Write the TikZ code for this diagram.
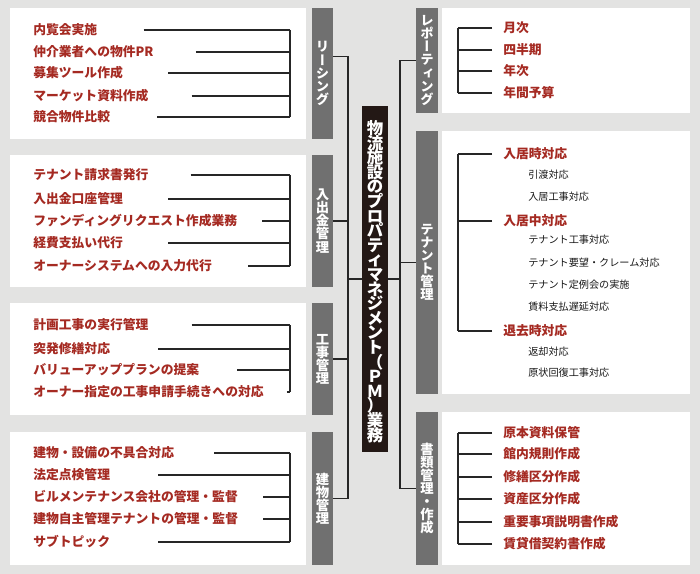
\documentclass[tikz,border=0pt]{standalone}
\usepackage{fontspec}
\setmainfont{Noto Sans CJK JP}
\newfontfamily\tatefont[RawFeature=+vert]{Noto Sans CJK JP}
\usetikzlibrary{positioning, fit}

\definecolor{bggray}{HTML}{E3E3E2}
\definecolor{tabgray}{HTML}{707070}
\definecolor{itemred}{HTML}{A52A22}
\definecolor{pmblack}{HTML}{231815}

\newcommand{\tabfont}{\tatefont\bfseries\fontsize{10}{9.8}\selectfont\lineskiplimit-20pt\lineskip0pt\relax}
\newcommand{\pmfont}{\bfseries\fontsize{12.3}{10.95}\selectfont\lineskiplimit-20pt\lineskip0pt\relax}

\tikzset{
    panel/.style={fill=white, inner sep=0pt},
    tab/.style={fill=tabgray, inner sep=0pt},
    tablabel/.style={inner sep=0pt, text=white, text width=15pt, align=center, font=\tabfont},
    pmbox/.style={fill=pmblack, inner sep=0pt},
    pmlabel/.style={inner sep=0pt, text=white, text width=19pt, align=center, font=\pmfont},
    item/.style={anchor=west, inner sep=0pt, text=itemred, font=\bfseries\fontsize{9.6}{10}\selectfont},
    subitem/.style={anchor=west, inner sep=0pt, text=black!90, font=\fontsize{7.6}{8}\selectfont},
    link/.style={draw=black!85, line width=0.8pt}
}

\begin{document}
\begin{tikzpicture}[x=0.75pt, y=-0.75pt]

        % -----------------------------------------------------------------
        % SFONDO E PANNELLI
        % -----------------------------------------------------------------
        \fill[bggray] (0,0) rectangle (700,574);
        \useasboundingbox (0,0) rectangle (700,574);

        \node[panel, fit={(10,8) (306,139)}] (pLease) {};
        \node[panel, fit={(10,155) (306,287)}] (pMoney) {};
        \node[panel, fit={(10,303) (306,415)}] (pWork) {};
        \node[panel, fit={(10,432) (306,565)}] (pBuild) {};
        \node[panel, fit={(442,8) (690,113)}] (pReport) {};
        \node[panel, fit={(442,131) (690,394)}] (pTenant) {};
        \node[panel, fit={(442,412) (690,565)}] (pDocs) {};

        \foreach \nm/\xa/\xb/\ya/\yb/\txt in {
            tLease/312/333/8/139/{リ\\ー\\シ\\ン\\グ},
            tMoney/312/333/155/287/{入\\出\\金\\管\\理},
            tWork/312/333/303/415/{工\\事\\管\\理},
            tBuild/312/333/432/565/{建\\物\\管\\理},
            tReport/416/438/8/113/{レ\\ポ\\ー\\テ\\ィ\\ン\\グ},
            tTenant/416/438/131/394/{テ\\ナ\\ン\\ト\\管\\理},
            tDocs/416/438/412/565/{書\\類\\管\\理\\・\\作\\成}} {
            \node[tab, fit={(\xa,\ya) (\xb,\yb)}] (\nm) {};
            \node[tablabel] (\nm Lbl) at (\nm.center) {\txt};
        }

        \coordinate (brkL) at (290,0);
        \coordinate (brkR) at (458,0);
        \coordinate (trunkL) at (348,279);
        \coordinate (trunkR) at (400,279);

        % -----------------------------------------------------------------
        % VOCI A SINISTRA
        % -----------------------------------------------------------------
        \foreach \y/\txt/\g [count=\i] in {30/内覧会実施/46, 52/仲介業者への物件PR/42, 73/募集ツール作成/45, 96/マーケット資料作成/43, 117/競合物件比較/47} {
            \node[item] (lease\i) at (33,\y) {\txt};
            \draw[link] ([xshift=\g*0.75pt]lease\i.east) -- (lease\i.east -| brkL);
        }
        \draw[link] (lease1.east -| brkL) -- (lease5.east -| brkL);

        \foreach \y/\txt/\g [count=\i] in {175/テナント請求書発行/42, 199/入出金口座管理/45, 221/ファンディングリクエスト作成業務/25, 243/経費支払い代行/45, 266/オーナーシステムへの入力代行/36} {
            \node[item] (money\i) at (33,\y) {\txt};
            \draw[link] ([xshift=\g*0.75pt]money\i.east) -- (money\i.east -| brkL);
        }
        \draw[link] (money1.east -| brkL) -- (money5.east -| brkL);

        \foreach \y/\txt/\g [count=\i] in {325/計画工事の実行管理/43, 349/突発修繕対応/48, 370/バリューアッププランの提案/38, 392/オーナー指定の工事申請手続きへの対応/23} {
            \node[item] (work\i) at (33,\y) {\txt};
            \draw[link] ([xshift=\g*0.75pt]work\i.east) -- (work\i.east -| brkL);
        }
        \draw[link] (work1.east -| brkL) -- (work4.east -| brkL);

        \foreach \y/\txt/\g [count=\i] in {453/建物・設備の不具合対応/40, 475/法定点検管理/48, 497/ビルメンテナンス会社の管理・監督/25, 519/建物自主管理テナントの管理・監督/25, 542/サブトピック/48} {
            \node[item] (build\i) at (33,\y) {\txt};
            \draw[link] ([xshift=\g*0.75pt]build\i.east) -- (build\i.east -| brkL);
        }
        \draw[link] (build1.east -| brkL) -- (build5.east -| brkL);

        % -----------------------------------------------------------------
        % VOCI A DESTRA
        % -----------------------------------------------------------------
        \foreach \y/\txt [count=\i] in {28/月次, 50/四半期, 71/年次, 93/年間予算} {
            \node[item] (rep\i) at (503,\y) {\txt};
            \draw[link] ([xshift=-8.25pt]rep\i.west) -- (rep\i.west -| brkR);
        }
        \draw[link] (rep1.west -| brkR) -- (rep4.west -| brkR);

        \node[item] (tenIn) at (503,154) {入居時対応};
        \node[item] (tenStay) at (503,221) {入居中対応};
        \node[item] (tenOut) at (503,331) {退去時対応};
        \foreach \y/\txt [count=\i] in {175/引渡対応, 197/入居工事対応, 240/テナント工事対応, 263/テナント要望・クレーム対応, 285/テナント定例会の実施, 307/賃料支払遅延対応, 352/返却対応, 373/原状回復工事対応} {
            \node[subitem] (tenSub\i) at (528,\y) {\txt};
        }
        \foreach \n in {tenIn, tenStay, tenOut} {
            \draw[link] ([xshift=-8.25pt]\n.west) -- (\n.west -| brkR);
        }
        \draw[link] (tenIn.west -| brkR) -- (tenOut.west -| brkR);

        \foreach \y/\txt [count=\i] in {433/原本資料保管, 454/館内規則作成, 477/修繕区分作成, 499/資産区分作成, 522/重要事項説明書作成, 544/賃貸借契約書作成} {
            \node[item] (doc\i) at (503,\y) {\txt};
            \draw[link] ([xshift=-8.25pt]doc\i.west) -- (doc\i.west -| brkR);
        }
        \draw[link] (doc1.west -| brkR) -- (doc6.west -| brkR);

        % -----------------------------------------------------------------
        % TRONCO CENTRALE
        % -----------------------------------------------------------------
        \draw[link] ([yshift=12.4pt]tLease.east) -| (tBuild.east -| trunkL) -- (tBuild.east);
        \draw[link] (tMoney.east) -- (tMoney.east -| trunkL);
        \draw[link] (tWork.east) -- (tWork.east -| trunkL);
        \draw[link] (tReport.west) -| (tDocs.west -| trunkR) -- (tDocs.west);
        \draw[link] (tTenant.west) -- (tTenant.west -| trunkR);
        \draw[link] (trunkL) -- (trunkR);

        \node[pmbox, fit={(362,106) (388,452)}] (pm) {};
        \node[pmlabel] (pmLbl) at ([yshift=-2pt]pm.center) {物\\流\\施\\設\\の\\プ\\ロ\\パ\\テ\\ィ\\マ\\ネ\\ジ\\メ\\ン\\ト\\（\\Ｐ\\Ｍ\\）\\業\\務};

\end{tikzpicture}
\end{document}
